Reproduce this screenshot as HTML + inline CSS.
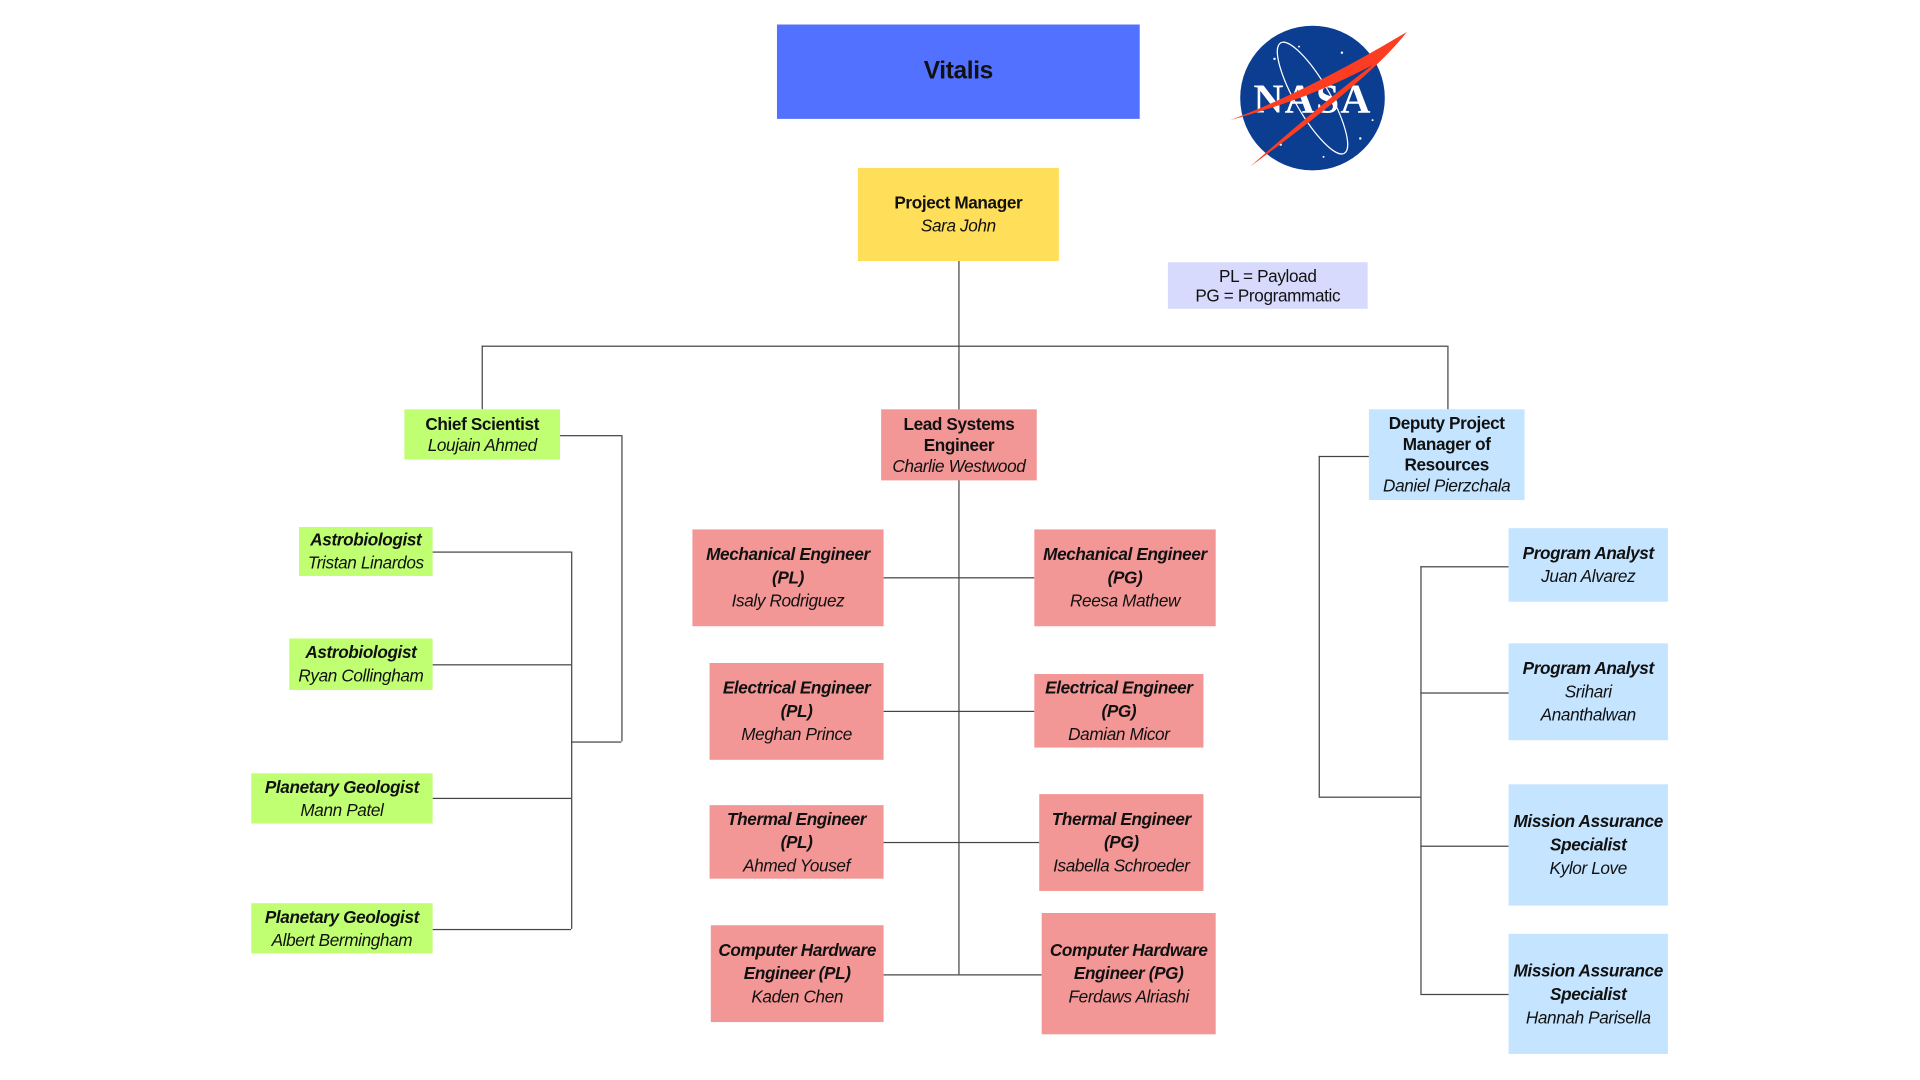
<!DOCTYPE html>
<html><head><meta charset="utf-8"><style>
html,body{margin:0;padding:0;background:#fff;}
body{width:1920px;height:1080px;overflow:hidden;position:relative;}
#s{position:absolute;left:0;top:0;width:1560px;height:878px;transform:scale(1.2255);transform-origin:0 0;font-family:"Liberation Sans",sans-serif;color:#111;}
.b{position:absolute;display:flex;flex-direction:column;justify-content:center;align-items:center;text-align:center;font-size:14px;line-height:19px;box-sizing:border-box;letter-spacing:-0.3px;}
.b b{font-weight:bold;}
.b i{font-style:italic;}
.g{background:#c1ff72;}.r{background:#f29696;}.u{background:#c4e4ff;}
.l{position:absolute;background:#444;}
.h{height:1px;}.v{width:1px;}
</style></head><body><div id="s">
<div class="b" style="left:634px;top:20px;width:296px;height:77px;background:#5271ff;font-size:20px;font-weight:bold;">Vitalis</div>
<svg style="position:absolute;left:1000px;top:18px" width="155" height="125" viewBox="0 0 155 125">
<circle cx="71" cy="62" r="59" fill="#0b3d91"/>
<ellipse cx="71" cy="62" rx="14" ry="52" fill="none" stroke="#fff" stroke-width="1" transform="rotate(-30 71 62)"/>
<g fill="#fff"><circle cx="40" cy="30" r="1"/><circle cx="95" cy="25" r="1"/><circle cx="110" cy="95" r="1"/><circle cx="45" cy="100" r="1"/><circle cx="60" cy="20" r="0.8"/><circle cx="120" cy="80" r="0.8"/><circle cx="80" cy="110" r="0.8"/></g>
<text x="71" y="74" text-anchor="middle" font-family="Liberation Serif,serif" font-weight="bold" font-size="34" fill="#fff" letter-spacing="1">NASA</text>
<path d="M4 80 Q70 55 148 8 Q120 45 20 118 Q80 65 120 35 Q70 62 4 80Z" fill="#fc3d21"/>
</svg>
<div class="b" style="left:700px;top:137px;width:164px;height:76px;background:#ffde59;"><b>Project Manager</b><i>Sara John</i></div>
<div class="b" style="left:953px;top:214px;width:163px;height:38px;background:#d8dafd;line-height:16px;">PL = Payload<br>PG = Programmatic</div>

<div class="l v" style="left:782px;top:213px;height:582px"></div>
<div class="l h" style="left:393px;top:282px;width:788px"></div>
<div class="l v" style="left:393px;top:282px;height:52px"></div>
<div class="l v" style="left:1181px;top:282px;height:52px"></div>

<div class="l h" style="left:457px;top:355px;width:50px"></div>
<div class="l v" style="left:507px;top:355px;height:250px"></div>
<div class="l h" style="left:466px;top:605px;width:41px"></div>
<div class="l v" style="left:466px;top:450px;height:308px"></div>
<div class="l h" style="left:353px;top:450px;width:113px"></div>
<div class="l h" style="left:353px;top:542px;width:113px"></div>
<div class="l h" style="left:353px;top:651px;width:113px"></div>
<div class="l h" style="left:353px;top:758px;width:113px"></div>

<div class="l h" style="left:721px;top:471px;width:123px"></div>
<div class="l h" style="left:721px;top:580px;width:123px"></div>
<div class="l h" style="left:721px;top:687px;width:127px"></div>
<div class="l h" style="left:721px;top:795px;width:129px"></div>

<div class="l h" style="left:1076px;top:372px;width:41px"></div>
<div class="l v" style="left:1076px;top:372px;height:278px"></div>
<div class="l h" style="left:1076px;top:650px;width:83px"></div>
<div class="l v" style="left:1159px;top:462px;height:349px"></div>
<div class="l h" style="left:1159px;top:462px;width:72px"></div>
<div class="l h" style="left:1159px;top:565px;width:72px"></div>
<div class="l h" style="left:1159px;top:690px;width:72px"></div>
<div class="l h" style="left:1159px;top:811px;width:72px"></div>

<div class="b g" style="left:330px;top:334px;width:127px;height:41px;line-height:17px;"><b>Chief Scientist</b><i>Loujain Ahmed</i></div>
<div class="b g" style="left:244px;top:430px;width:109px;height:40px;"><b><i>Astrobiologist</i></b><i>Tristan Linardos</i></div>
<div class="b g" style="left:236px;top:521px;width:117px;height:42px;"><b><i>Astrobiologist</i></b><i>Ryan Collingham</i></div>
<div class="b g" style="left:205px;top:631px;width:148px;height:41px;"><b><i>Planetary Geologist</i></b><i>Mann Patel</i></div>
<div class="b g" style="left:205px;top:737px;width:148px;height:41px;"><b><i>Planetary Geologist</i></b><i>Albert Bermingham</i></div>

<div class="b r" style="left:719px;top:334px;width:127px;height:58px;line-height:17px;"><b>Lead Systems<br>Engineer</b><i>Charlie Westwood</i></div>
<div class="b r" style="left:565px;top:432px;width:156px;height:79px;"><b><i>Mechanical Engineer<br>(PL)</i></b><i>Isaly Rodriguez</i></div>
<div class="b r" style="left:844px;top:432px;width:148px;height:79px;"><b><i>Mechanical Engineer<br>(PG)</i></b><i>Reesa Mathew</i></div>
<div class="b r" style="left:579px;top:541px;width:142px;height:79px;"><b><i>Electrical Engineer<br>(PL)</i></b><i>Meghan Prince</i></div>
<div class="b r" style="left:844px;top:550px;width:138px;height:60px;"><b><i>Electrical Engineer<br>(PG)</i></b><i>Damian Micor</i></div>
<div class="b r" style="left:579px;top:657px;width:142px;height:60px;"><b><i>Thermal Engineer<br>(PL)</i></b><i>Ahmed Yousef</i></div>
<div class="b r" style="left:848px;top:648px;width:134px;height:79px;"><b><i>Thermal Engineer<br>(PG)</i></b><i>Isabella Schroeder</i></div>
<div class="b r" style="left:580px;top:755px;width:141px;height:79px;"><b><i>Computer Hardware<br>Engineer (PL)</i></b><i>Kaden Chen</i></div>
<div class="b r" style="left:850px;top:745px;width:142px;height:99px;"><b><i>Computer Hardware<br>Engineer (PG)</i></b><i>Ferdaws Alriashi</i></div>

<div class="b u" style="left:1117px;top:334px;width:127px;height:74px;line-height:17px;"><b>Deputy Project<br>Manager of<br>Resources</b><i>Daniel Pierzchala</i></div>
<div class="b u" style="left:1231px;top:431px;width:130px;height:60px;"><b><i>Program Analyst</i></b><i>Juan Alvarez</i></div>
<div class="b u" style="left:1231px;top:525px;width:130px;height:79px;"><b><i>Program Analyst</i></b><i>Srihari<br>Ananthalwan</i></div>
<div class="b u" style="left:1231px;top:640px;width:130px;height:99px;"><b><i>Mission Assurance<br>Specialist</i></b><i>Kylor Love</i></div>
<div class="b u" style="left:1231px;top:762px;width:130px;height:98px;"><b><i>Mission Assurance<br>Specialist</i></b><i>Hannah Parisella</i></div>
</div></body></html>
